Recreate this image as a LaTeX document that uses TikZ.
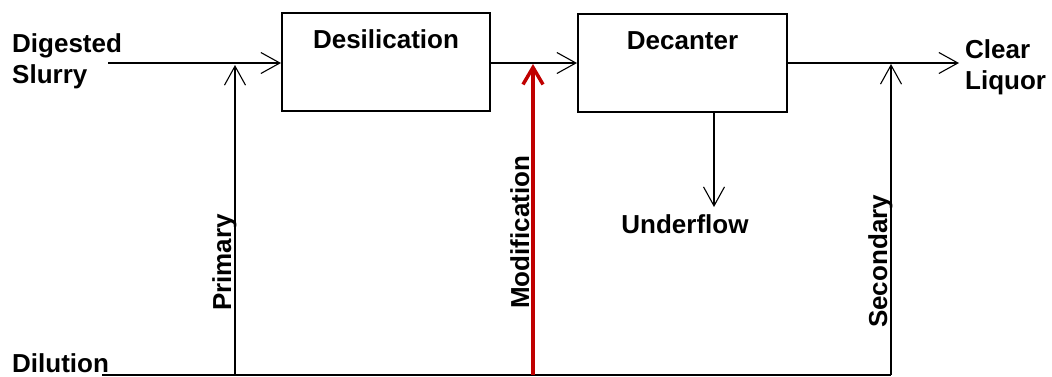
\documentclass[tikz,border=0pt]{standalone}
\usepackage{fontspec}
\setmainfont{Liberation Sans}
\usetikzlibrary{arrows.meta}
\definecolor{modred}{HTML}{C00000}
\tikzset{
  lbl/.style={font=\bfseries\fontsize{26}{31}\selectfont, inner sep=0pt},
  procbox/.style={draw, line width=2pt, anchor=north west, inner xsep=0pt, inner ysep=0pt,
     text height=35pt, text depth=63pt, font=\bfseries\fontsize{26}{31}\selectfont},
  flow/.style={line width=1.1pt, -{Straight Barb[length=19pt,width=21pt]}},
  plain/.style={line width=1.1pt},
  redflow/.style={line width=3.5pt, color=modred, -{Straight Barb[length=17pt,width=20pt]}}
}
\begin{document}
\begin{tikzpicture}[x=1pt,y=-1pt]
\useasboundingbox (0,0) rectangle (1052,376);
% boxes
\node[procbox, minimum width=208pt] (desil) at (281,12) {Desilication};
\node[procbox, minimum width=209pt] (dec) at (577,13) {Decanter};
% coordinates
\coordinate (ds) at (108,63);
\coordinate (jp) at (235,63);
\coordinate (jm) at (533,63);
\coordinate (js) at (891,63);
\coordinate (cl) at (959,63);
\coordinate (dl) at (102,375);
\coordinate (bp) at (235,375);
\coordinate (bm) at (533,375);
\coordinate (bs) at (891,375);
\coordinate (uf) at (714,207);
% texts
\node[lbl, anchor=base west, align=left] (dstext) at (12,83) {Digested\\Slurry};
\node[lbl, anchor=base west, align=left] (cltext) at (965,89) {Clear\\Liquor};
\node[lbl, anchor=base west] (dil) at (12,372) {Dilution};
\node[lbl, anchor=base] (uft) at (685,233) {Underflow};
\node[lbl, anchor=base west, rotate=90] (prim) at (231,311) {Primary};
\node[lbl, anchor=base west, rotate=90] (modt) at (529,309) {Modification};
\node[lbl, anchor=base west, rotate=90] (sect) at (887,328) {Secondary};
% connectors
\draw[flow] (ds) -- (ds -| desil.west);
\draw[flow] (jm -| desil.east) -- (jm -| dec.west);
\draw[flow] (js -| dec.east) -- (cl);
\draw[plain] (dl) -- (bs);
\draw[flow] (bp) -- ([yshift=-2pt]jp);
\draw[flow] (bs) -- ([yshift=-1pt]js);
\draw[redflow] (bm) -- ([yshift=-1pt]jm);
\draw[flow] (uf |- dec.south) -- (uf);
\end{tikzpicture}
\end{document}
